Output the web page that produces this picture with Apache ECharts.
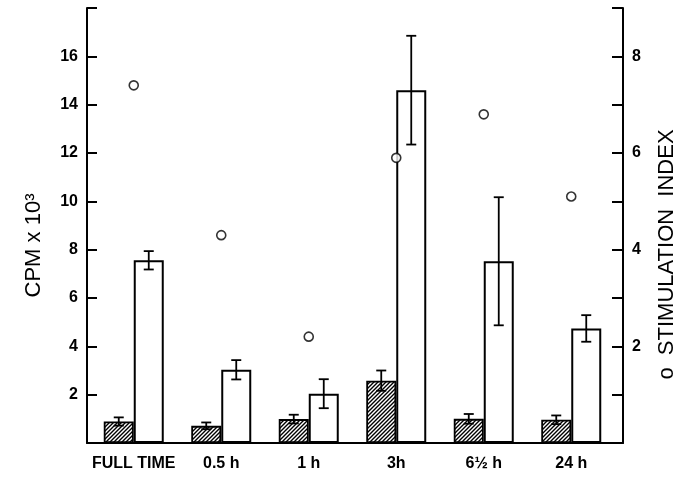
<!DOCTYPE html>
<html>
<head>
<meta charset="utf-8">
<script src="https://cdn.jsdelivr.net/npm/echarts@6/dist/echarts.min.js"></script>
<style>
html,body{margin:0;padding:0;background:#fff;}
#chart{width:676px;height:477px;}
</style>
</head>
<body>
<div id="chart"></div>
<script>
// ---- data ----
const categories = ['FULL TIME', '0.5 h', '1 h', '3h', '6\u00BD h', '24 h'];
const controlCpm = [0.89, 0.71, 0.99, 2.58, 1.00, 0.96];   // hatched bars (CPM x 10^3)
const controlErr = [0.17, 0.14, 0.18, 0.42, 0.20, 0.18];
const stimCpm    = [7.56, 3.03, 2.04, 14.6, 7.52, 4.74];   // open bars (CPM x 10^3)
const stimErr    = [0.38, 0.40, 0.60, 2.25, 2.65, 0.55];
const stimIndex  = [7.4, 4.3, 2.2, 5.9, 6.8, 5.1];         // open circles (right axis)
const leftTickLabels  = [2, 4, 6, 8, 10, 12, 14, 16];
const rightTickLabels = [2, 4, 6, 8];

// ---- styles ----
const FONT = 'Liberation Sans';
const BAR_W = 30;

function hatchPattern() {
  const s = 4;
  const c = document.createElement('canvas');
  c.width = s; c.height = s;
  const g = c.getContext('2d');
  g.fillStyle = '#fff';
  g.fillRect(0, 0, s, s);
  g.strokeStyle = '#000';
  g.lineWidth = 1.4;
  g.beginPath();
  g.moveTo(-1, s + 1); g.lineTo(s + 1, -1);
  g.moveTo(-1, 1); g.lineTo(1, -1);
  g.moveTo(s - 1, s + 1); g.lineTo(s + 1, s - 1);
  g.stroke();
  return c;
}

function errorSeries(vals, errs, offset) {
  return {
    type: 'custom',
    xAxisIndex: 0,
    yAxisIndex: 2,
    z: 5,
    data: vals.map((v, i) => [i, v, errs[i]]),
    renderItem: function (params, api) {
      const i = api.value(0), v = api.value(1), e = api.value(2);
      const top = api.coord([i, v + e]);
      const bot = api.coord([i, v - e]);
      const x = top[0] + offset;
      const cap = 5;
      const st = { stroke: '#000', lineWidth: 1.8 };
      return {
        type: 'group',
        children: [
          { type: 'line', shape: { x1: x, y1: top[1], x2: x, y2: bot[1] }, style: st },
          { type: 'line', shape: { x1: x - cap, y1: top[1], x2: x + cap, y2: top[1] }, style: st },
          { type: 'line', shape: { x1: x - cap, y1: bot[1], x2: x + cap, y2: bot[1] }, style: st }
        ]
      };
    }
  };
}

const frameGrid = { left: 87, right: 53, top: 8, bottom: 34, containLabel: false, outerBoundsMode: 'none' };
const plotGrid  = { left: 90, right: 61, top: 8, bottom: 34, containLabel: false, outerBoundsMode: 'none' };

const chart = echarts.init(document.getElementById('chart'), null, { renderer: 'canvas' });
chart.setOption({
  animation: false,
  backgroundColor: '#fff',
  textStyle: { fontFamily: FONT, color: '#000' },
  grid: [plotGrid, frameGrid],
  xAxis: [
    {
      type: 'category', gridIndex: 0,
      data: categories,
      axisLine: { show: false },
      axisTick: { show: false },
      axisLabel: { color: '#000', fontSize: 16, fontWeight: 'bold', fontFamily: FONT, margin: 13, interval: 0 }
    },
    {
      type: 'value', gridIndex: 1, min: 0, max: 1,
      axisLine: { show: true, lineStyle: { color: '#000', width: 2 } },
      axisTick: { show: false }, axisLabel: { show: false }, splitLine: { show: false }
    }
  ],
  yAxis: [
    {
      type: 'value', gridIndex: 1, min: 0, max: 18, interval: 2,
      name: 'CPM x 10\u00B3', nameLocation: 'middle', nameGap: 42, nameRotate: 90,
      nameTextStyle: { fontSize: 22, color: '#000', fontFamily: FONT, padding: [0, 40, 0, 0] },
      splitLine: { show: false },
      axisLine: { show: true, lineStyle: { color: '#000', width: 2 } },
      axisTick: { show: true, inside: true, length: 10, lineStyle: { color: '#000', width: 2 } },
      axisLabel: {
        color: '#000', fontSize: 16, fontWeight: 'bold', fontFamily: FONT, margin: 9,
        formatter: v => leftTickLabels.includes(v) ? String(v) : ''
      }
    },
    {
      type: 'value', gridIndex: 1, min: 0, max: 9, interval: 1, position: 'right',
      name: 'o  STIMULATION  INDEX', nameLocation: 'middle', nameGap: 33, nameRotate: 90,
      nameTextStyle: { fontSize: 22, color: '#000', fontFamily: FONT, padding: [0, 58, 0, 0] },
      splitLine: { show: false },
      axisLine: { show: true, lineStyle: { color: '#000', width: 2 } },
      axisTick: { show: true, inside: true, length: 11, lineStyle: { color: '#000', width: 2 } },
      axisLabel: {
        color: '#000', fontSize: 16, fontWeight: 'bold', fontFamily: FONT, margin: 9,
        formatter: v => rightTickLabels.includes(v) ? String(v) : ''
      }
    },
    { type: 'value', gridIndex: 0, min: 0, max: 18, show: false },
    { type: 'value', gridIndex: 0, min: 0, max: 9, show: false, position: 'right' }
  ],
  series: [
    {
      type: 'bar', xAxisIndex: 0, yAxisIndex: 2, barWidth: BAR_W, barGap: '0%',
      data: controlCpm,
      itemStyle: { color: { image: hatchPattern(), repeat: 'repeat' }, borderColor: '#000', borderWidth: 1.8 }
    },
    {
      type: 'bar', xAxisIndex: 0, yAxisIndex: 2, barWidth: BAR_W, barGap: '0%',
      data: stimCpm,
      itemStyle: { color: '#fff', borderColor: '#000', borderWidth: 2 }
    },
    errorSeries(controlCpm, controlErr, -BAR_W / 2),
    errorSeries(stimCpm, stimErr, BAR_W / 2),
    {
      type: 'scatter', xAxisIndex: 0, yAxisIndex: 3, z: 6,
      data: stimIndex,
      symbol: 'circle', symbolSize: 9,
      itemStyle: { color: '#fff', borderColor: '#000', borderWidth: 1.6 }
    }
  ]
});
</script>
</body>
</html>
